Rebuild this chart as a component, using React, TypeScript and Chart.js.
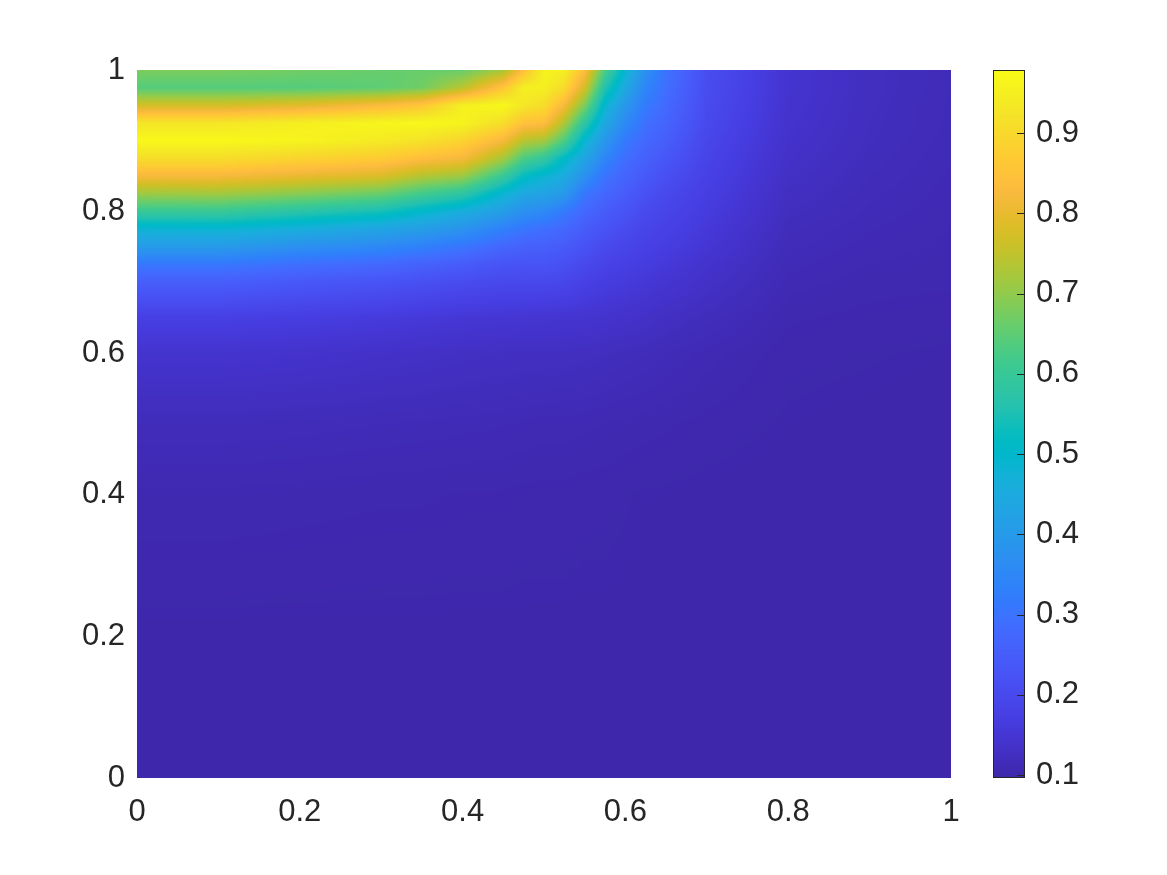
import React, { useEffect, useRef } from "react";
import { Chart, registerables } from "chart.js";

Chart.register(...registerables);

// Grid positions (x ascending, y listed from top y=1 to bottom y=0)
const xGrid = [0, 0.1, 0.2, 0.3, 0.35, 0.4, 0.45, 0.475, 0.5, 0.525, 0.55, 0.575, 0.6, 0.625, 0.65, 0.7, 0.8, 0.9, 1.0];
const yGrid = [1.0, 0.975, 0.95, 0.925, 0.9, 0.875, 0.85, 0.825, 0.8, 0.775, 0.75, 0.725, 0.7, 0.65, 0.6, 0.5, 0.4, 0.2, 0.0];

// Field values per x column, from y=1 (top) down to y=0
const colX000 = [0.68, 0.64, 0.77, 0.93, 0.97, 0.91, 0.82, 0.71, 0.6, 0.48, 0.4, 0.31, 0.25, 0.175, 0.143, 0.118, 0.107, 0.099, 0.098];
const colX010 = [0.68, 0.64, 0.77, 0.93, 0.97, 0.91, 0.82, 0.715, 0.6, 0.485, 0.4, 0.31, 0.25, 0.175, 0.143, 0.118, 0.107, 0.099, 0.098];
const colX020 = [0.67, 0.64, 0.79, 0.95, 0.96, 0.89, 0.8, 0.69, 0.57, 0.46, 0.37, 0.29, 0.235, 0.17, 0.14, 0.117, 0.106, 0.099, 0.098];
const colX030 = [0.66, 0.65, 0.83, 0.965, 0.94, 0.87, 0.78, 0.66, 0.54, 0.43, 0.35, 0.275, 0.225, 0.163, 0.135, 0.115, 0.105, 0.099, 0.098];
const colX035 = [0.66, 0.67, 0.86, 0.97, 0.92, 0.84, 0.735, 0.615, 0.5, 0.41, 0.33, 0.26, 0.215, 0.158, 0.133, 0.114, 0.105, 0.099, 0.098];
const colX040 = [0.66, 0.74, 0.95, 0.96, 0.89, 0.82, 0.71, 0.58, 0.46, 0.38, 0.305, 0.245, 0.205, 0.153, 0.13, 0.113, 0.104, 0.099, 0.098];
const colX045 = [0.72, 0.86, 0.97, 0.91, 0.82, 0.72, 0.6, 0.485, 0.41, 0.33, 0.27, 0.225, 0.197, 0.15, 0.128, 0.112, 0.104, 0.099, 0.098];
const colX0475 = [0.84, 0.95, 0.93, 0.85, 0.74, 0.63, 0.52, 0.44, 0.37, 0.305, 0.258, 0.223, 0.197, 0.149, 0.127, 0.111, 0.103, 0.099, 0.098];
const colX050 = [0.96, 0.95, 0.91, 0.84, 0.72, 0.59, 0.485, 0.426, 0.355, 0.289, 0.253, 0.225, 0.197, 0.148, 0.127, 0.11, 0.103, 0.099, 0.098];
const colX0525 = [0.95, 0.905, 0.82, 0.73, 0.63, 0.51, 0.452, 0.398, 0.316, 0.274, 0.243, 0.215, 0.192, 0.146, 0.126, 0.11, 0.103, 0.099, 0.098];
const colX055 = [0.84, 0.77, 0.68, 0.58, 0.49, 0.433, 0.374, 0.308, 0.274, 0.245, 0.222, 0.197, 0.178, 0.145, 0.125, 0.109, 0.102, 0.099, 0.098];
const colX0575 = [0.63, 0.56, 0.49, 0.44, 0.39, 0.345, 0.3, 0.272, 0.245, 0.223, 0.2, 0.183, 0.167, 0.142, 0.123, 0.108, 0.102, 0.099, 0.098];
const colX060 = [0.49, 0.444, 0.392, 0.354, 0.315, 0.288, 0.267, 0.246, 0.225, 0.204, 0.189, 0.175, 0.162, 0.138, 0.12, 0.107, 0.101, 0.099, 0.098];
const colX0625 = [0.37, 0.345, 0.318, 0.293, 0.275, 0.257, 0.238, 0.219, 0.2, 0.188, 0.177, 0.165, 0.154, 0.134, 0.118, 0.106, 0.1, 0.099, 0.098];
const colX065 = [0.3, 0.29, 0.278, 0.265, 0.25, 0.232, 0.214, 0.198, 0.188, 0.179, 0.169, 0.158, 0.147, 0.128, 0.115, 0.105, 0.1, 0.098, 0.098];
const colX070 = [0.21, 0.207, 0.204, 0.199, 0.192, 0.185, 0.179, 0.172, 0.165, 0.158, 0.15, 0.141, 0.134, 0.12, 0.11, 0.103, 0.099, 0.098, 0.098];
const colX080 = [0.145, 0.145, 0.143, 0.141, 0.138, 0.135, 0.131, 0.127, 0.123, 0.119, 0.116, 0.113, 0.11, 0.105, 0.102, 0.1, 0.098, 0.098, 0.098];
const colX090 = [0.125, 0.125, 0.124, 0.123, 0.122, 0.12, 0.118, 0.116, 0.114, 0.112, 0.11, 0.108, 0.106, 0.103, 0.101, 0.099, 0.098, 0.098, 0.098];
const colX100 = [0.115, 0.115, 0.114, 0.114, 0.113, 0.112, 0.111, 0.11, 0.109, 0.108, 0.107, 0.106, 0.105, 0.102, 0.1, 0.098, 0.098, 0.098, 0.098];

const columns = [colX000, colX010, colX020, colX030, colX035, colX040, colX045, colX0475, colX050, colX0525, colX055, colX0575, colX060, colX0625, colX065, colX070, colX080, colX090, colX100];

const xTicks = [0, 0.2, 0.4, 0.6, 0.8, 1];
const yTicks = [0, 0.2, 0.4, 0.6, 0.8, 1];
const cbTicks = [0.1, 0.2, 0.3, 0.4, 0.5, 0.6, 0.7, 0.8, 0.9];
const cMin = 0.0963;
const cMax = 0.9785;

const parula = [
  [0.2422, 0.1504, 0.6603], [0.2504, 0.165, 0.7076], [0.2578, 0.1818, 0.7511], [0.2647, 0.1978, 0.7952],
  [0.2706, 0.2147, 0.8364], [0.2751, 0.2342, 0.871], [0.2783, 0.2559, 0.8991], [0.2803, 0.2782, 0.9221],
  [0.2813, 0.3006, 0.9414], [0.281, 0.3228, 0.9579], [0.2795, 0.3447, 0.9717], [0.276, 0.3667, 0.9829],
  [0.2699, 0.3892, 0.9906], [0.2602, 0.4123, 0.9952], [0.244, 0.4358, 0.9988], [0.2206, 0.4603, 0.9973],
  [0.1963, 0.4847, 0.9892], [0.1834, 0.5074, 0.9798], [0.1786, 0.5289, 0.9682], [0.1764, 0.5499, 0.952],
  [0.1687, 0.5703, 0.9359], [0.154, 0.5902, 0.9218], [0.146, 0.6091, 0.9079], [0.138, 0.6276, 0.8973],
  [0.1248, 0.6459, 0.8883], [0.1113, 0.6635, 0.8763], [0.0952, 0.6798, 0.8598], [0.0689, 0.6948, 0.8394],
  [0.0297, 0.7082, 0.8163], [0.0036, 0.7203, 0.7917], [0.0067, 0.7312, 0.766], [0.0433, 0.7411, 0.7394],
  [0.0964, 0.75, 0.712], [0.1408, 0.7584, 0.6842], [0.1717, 0.767, 0.6554], [0.1938, 0.7758, 0.6251],
  [0.2161, 0.7843, 0.5923], [0.247, 0.7918, 0.5567], [0.2906, 0.7973, 0.5188], [0.3406, 0.8008, 0.4789],
  [0.3909, 0.8029, 0.4354], [0.4456, 0.8024, 0.3909], [0.5044, 0.7993, 0.348], [0.5616, 0.7942, 0.3045],
  [0.6174, 0.7876, 0.2612], [0.672, 0.7793, 0.2227], [0.7242, 0.7698, 0.191], [0.7738, 0.7598, 0.1646],
  [0.8203, 0.7498, 0.1535], [0.8634, 0.7406, 0.1596], [0.9035, 0.733, 0.1774], [0.9393, 0.7288, 0.21],
  [0.9728, 0.7298, 0.2394], [0.9956, 0.7434, 0.2371], [0.997, 0.7659, 0.2199], [0.9952, 0.7893, 0.2028],
  [0.9892, 0.8136, 0.1885], [0.9786, 0.8386, 0.1766], [0.9676, 0.8639, 0.1643], [0.961, 0.889, 0.1537],
  [0.9597, 0.9135, 0.1423], [0.9628, 0.9373, 0.1265], [0.9691, 0.9606, 0.1064], [0.9769, 0.9839, 0.0805],
];

const TEXT = "#262626";
const FONT = { family: "'Liberation Sans', Arial, Helvetica, sans-serif", size: 31 };

function colorFor(v: number): [number, number, number] {
  let t = (v - cMin) / (cMax - cMin);
  if (t < 0) t = 0;
  if (t > 1) t = 1;
  const p = t * (parula.length - 1);
  const i = Math.min(parula.length - 2, Math.floor(p));
  const f = p - i;
  const a = parula[i], b = parula[i + 1];
  return [
    Math.round((a[0] + (b[0] - a[0]) * f) * 255),
    Math.round((a[1] + (b[1] - a[1]) * f) * 255),
    Math.round((a[2] + (b[2] - a[2]) * f) * 255),
  ];
}

function bracket(arr: number[], v: number): [number, number] {
  let i = 0;
  while (i < arr.length - 2 && v > arr[i + 1]) i++;
  let t = (v - arr[i]) / (arr[i + 1] - arr[i]);
  if (t < 0) t = 0;
  if (t > 1) t = 1;
  return [i, t];
}

const heatPlugin = {
  id: "heatmap",
  beforeDatasetsDraw(chart: any) {
    const { ctx, chartArea: a, scales } = chart;
    const xs = scales.x, ys = scales.y, cs = scales.cb;
    const yAsc = [...yGrid].reverse();
    const Z = yAsc.map((_, r) => columns.map((col) => col[col.length - 1 - r]));
    const L = Math.round(a.left), T = Math.round(a.top);
    const W = Math.round(a.right) - L, H = Math.round(a.bottom) - T;
    const img = ctx.createImageData(W, H);
    const ci: number[] = [], ct: number[] = [];
    for (let i = 0; i < W; i++) {
      const [k, t] = bracket(xGrid, xs.getValueForPixel(L + i + 0.5));
      ci.push(k); ct.push(t);
    }
    for (let j = 0; j < H; j++) {
      const [r, u] = bracket(yAsc, ys.getValueForPixel(T + j + 0.5));
      const z0 = Z[r], z1 = Z[r + 1];
      for (let i = 0; i < W; i++) {
        const k = ci[i], t = ct[i];
        const v0 = z0[k] + (z0[k + 1] - z0[k]) * t;
        const v1 = z1[k] + (z1[k + 1] - z1[k]) * t;
        const v = v0 + (v1 - v0) * u;
        const c = colorFor(v);
        const o = (j * W + i) * 4;
        img.data[o] = c[0]; img.data[o + 1] = c[1]; img.data[o + 2] = c[2]; img.data[o + 3] = 255;
      }
    }
    ctx.putImageData(img, L, T);

    // colorbar
    const cbL = Math.round(a.right) + 42;
    const cbW = 32;
    ctx.save();
    for (let py = T; py < T + H; py++) {
      const c = colorFor(cs.getValueForPixel(py + 0.5));
      ctx.fillStyle = `rgb(${c[0]},${c[1]},${c[2]})`;
      ctx.fillRect(cbL, py, cbW, 1);
    }
    ctx.strokeStyle = TEXT;
    ctx.lineWidth = 1;
    ctx.strokeRect(cbL + 0.5, T + 0.5, cbW - 1, H - 1);
    ctx.beginPath();
    for (const tk of cs.ticks) {
      const y = Math.round(cs.getPixelForValue(tk.value)) + 0.5;
      ctx.moveTo(cbL + cbW - 1, y);
      ctx.lineTo(cbL + cbW - 8, y);
    }
    ctx.stroke();
    ctx.restore();
  },
};

function fixPad(s: any) {
  s.paddingTop = 0;
  s.paddingBottom = 0;
  s.paddingLeft = 0;
  s.paddingRight = 0;
}

export default function App() {
  const ref = useRef<HTMLCanvasElement | null>(null);
  useEffect(() => {
    if (!ref.current) return;
    const chart = new Chart(ref.current, {
      type: "scatter",
      data: { datasets: [{ data: [], pointRadius: 0 }] },
      options: {
        animation: false,
        responsive: false,
        devicePixelRatio: 1,
        layout: { padding: { top: 70, left: 0, right: 0, bottom: 0 } },
        plugins: { legend: { display: false }, tooltip: { enabled: false } },
        scales: {
          x: {
            type: "linear",
            min: 0,
            max: 1,
            grid: { display: false, drawTicks: false },
            border: { display: false },
            afterBuildTicks: (s: any) => { s.ticks = xTicks.map((v) => ({ value: v })); },
            afterFit: (s: any) => { s.height = 97; fixPad(s); },
            ticks: { color: TEXT, font: FONT, padding: 16, maxRotation: 0, callback: (v: any) => String(v) },
          },
          y: {
            type: "linear",
            min: 0,
            max: 1,
            grid: { display: false, drawTicks: false },
            border: { display: false },
            afterBuildTicks: (s: any) => { s.ticks = yTicks.map((v) => ({ value: v })); },
            afterFit: (s: any) => { s.width = 137; fixPad(s); },
            ticks: { color: TEXT, font: FONT, padding: 12, callback: (v: any) => String(v) },
          },
          cb: {
            type: "linear",
            position: "right",
            min: cMin,
            max: cMax,
            grid: { display: false, drawTicks: false },
            border: { display: false },
            afterBuildTicks: (s: any) => { s.ticks = cbTicks.map((v) => ({ value: v })); },
            afterFit: (s: any) => { s.width = 216; fixPad(s); },
            ticks: { color: TEXT, font: FONT, padding: 85, callback: (v: any) => String(v) },
          },
        },
      },
      plugins: [heatPlugin],
    } as any);
    return () => chart.destroy();
  }, []);
  return (
    <div style={{ position: "absolute", left: 0, top: 0, width: 1167, height: 875, background: "#fff" }}>
      <canvas ref={ref} width={1167} height={875} style={{ display: "block", width: 1167, height: 875 }} />
    </div>
  );
}
